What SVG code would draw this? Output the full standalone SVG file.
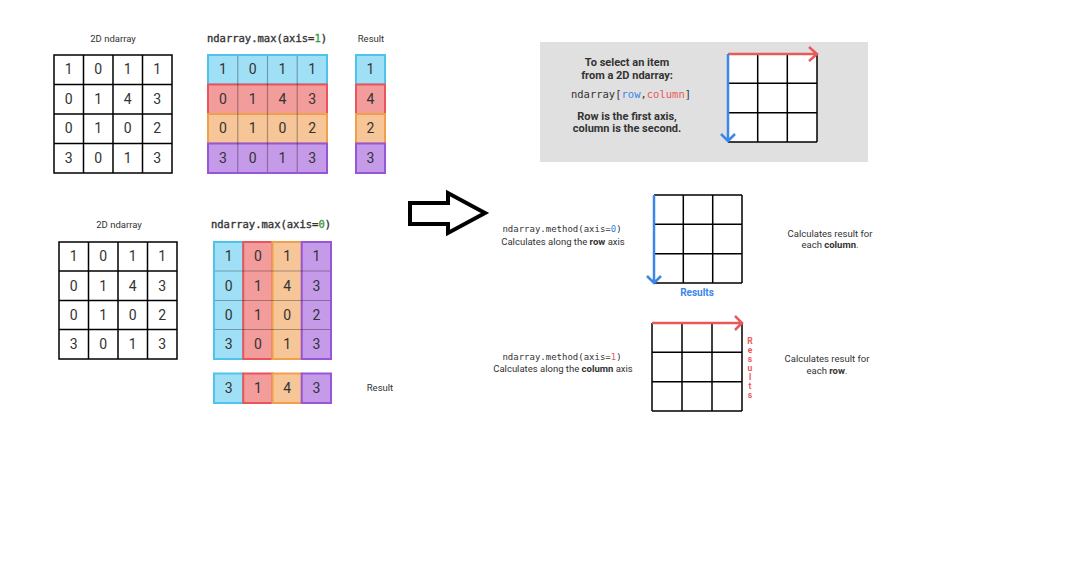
<svg xmlns="http://www.w3.org/2000/svg" width="1076" height="563" viewBox="0 0 1076 563">
<style>
.lbl{font-family:Roboto,"Liberation Sans",sans-serif;font-size:9.5px;fill:#333;text-anchor:middle}
.num{font-family:Roboto,"Liberation Sans",sans-serif;font-size:14px;fill:#333;text-anchor:middle}
.code{font-family:"DejaVu Sans Mono","Liberation Mono",monospace;fill:#333;text-anchor:middle}
.title{stroke:#333;stroke-width:0.35}
.bold{font-family:Roboto,"Liberation Sans",sans-serif;font-weight:bold;font-size:10px;fill:#333;text-anchor:middle}
.big{font-size:11px}
.cell{fill:#fff;stroke:#000;stroke-width:1.5}
.div{stroke:#000;stroke-opacity:0.3;stroke-width:1.2}
.b{fill:#9fe0f6;stroke:#4fc3ea;stroke-width:2}
.r{fill:#f39c9c;stroke:#e8555a;stroke-width:2}
.o{fill:#f6c598;stroke:#f0a04b;stroke-width:2}
.p{fill:#c59ae9;stroke:#9656d6;stroke-width:2}
.grid{stroke:#000;stroke-width:1.5;fill:none}
.ra{stroke:#e85a5a;stroke-width:2.5;fill:none}
.ba{stroke:#3b86e8;stroke-width:2.5;fill:none}
</style>

<g id="top-input">
<text class="lbl" x="113" y="42">2D ndarray</text>
<rect class="cell" x="54" y="55" width="118" height="118"/>
<path class="grid" d="M83.5 55V173M113 55V173M142.5 55V173M54 84.5H172M54 114H172M54 143.5H172"/>
<g class="num">
<text x="68.75" y="74">1</text><text x="98.25" y="74">0</text><text x="127.75" y="74">1</text><text x="157.25" y="74">1</text>
<text x="68.75" y="104">0</text><text x="98.25" y="104">1</text><text x="127.75" y="104">4</text><text x="157.25" y="104">3</text>
<text x="68.75" y="133">0</text><text x="98.25" y="133">1</text><text x="127.75" y="133">0</text><text x="157.25" y="133">2</text>
<text x="68.75" y="163">3</text><text x="98.25" y="163">0</text><text x="127.75" y="163">1</text><text x="157.25" y="163">3</text>
</g>
</g>

<g id="top-colored">
<text class="code title" x="267" y="42" font-size="10.5">ndarray.max(axis=<tspan fill="#3a9a3a" stroke="#3a9a3a">1</tspan>)</text>
<rect class="b" x="208" y="55" width="119" height="29.5"/>
<rect class="r" x="208" y="84.5" width="119" height="29.5"/>
<rect class="o" x="208" y="114" width="119" height="29.5"/>
<rect class="p" x="208" y="143.5" width="119" height="29.5"/>
<path class="div" d="M237.75 56V172M267.5 56V172M297.25 56V172"/>
<g class="num">
<text x="222.9" y="74">1</text><text x="252.6" y="74">0</text><text x="282.4" y="74">1</text><text x="312.1" y="74">1</text>
<text x="222.9" y="104">0</text><text x="252.6" y="104">1</text><text x="282.4" y="104">4</text><text x="312.1" y="104">3</text>
<text x="222.9" y="133">0</text><text x="252.6" y="133">1</text><text x="282.4" y="133">0</text><text x="312.1" y="133">2</text>
<text x="222.9" y="163">3</text><text x="252.6" y="163">0</text><text x="282.4" y="163">1</text><text x="312.1" y="163">3</text>
</g>
</g>

<g id="top-result">
<text class="lbl" x="371" y="42">Result</text>
<rect class="b" x="356" y="55" width="29" height="29.5"/>
<rect class="r" x="356" y="84.5" width="29" height="29.5"/>
<rect class="o" x="356" y="114" width="29" height="29.5"/>
<rect class="p" x="356" y="143.5" width="29" height="29.5"/>
<g class="num">
<text x="370.5" y="74">1</text><text x="370.5" y="104">4</text><text x="370.5" y="133">2</text><text x="370.5" y="163">3</text>
</g>
</g>

<g id="bottom-input">
<text class="lbl" x="119" y="228">2D ndarray</text>
<rect class="cell" x="59" y="242" width="118" height="117"/>
<path class="grid" d="M88.5 242V359M118 242V359M147.5 242V359M59 271H177M59 300.5H177M59 329.5H177"/>
<g class="num">
<text x="73.75" y="261">1</text><text x="103.25" y="261">0</text><text x="132.75" y="261">1</text><text x="162.25" y="261">1</text>
<text x="73.75" y="291">0</text><text x="103.25" y="291">1</text><text x="132.75" y="291">4</text><text x="162.25" y="291">3</text>
<text x="73.75" y="320">0</text><text x="103.25" y="320">1</text><text x="132.75" y="320">0</text><text x="162.25" y="320">2</text>
<text x="73.75" y="349">3</text><text x="103.25" y="349">0</text><text x="132.75" y="349">1</text><text x="162.25" y="349">3</text>
</g>
</g>

<g id="bottom-colored">
<text class="code title" x="271" y="228" font-size="10.5">ndarray.max(axis=<tspan fill="#3a9a3a" stroke="#3a9a3a">0</tspan>)</text>
<rect class="b" x="214" y="242" width="29.25" height="117"/>
<rect class="r" x="243.25" y="242" width="29.25" height="117"/>
<rect class="o" x="272.5" y="242" width="29.25" height="117"/>
<rect class="p" x="301.75" y="242" width="29.25" height="117"/>
<path class="div" d="M215 271H330M215 300.5H330M215 329.5H330"/>
<g class="num">
<text x="228.6" y="261">1</text><text x="257.9" y="261">0</text><text x="287.1" y="261">1</text><text x="316.4" y="261">1</text>
<text x="228.6" y="291">0</text><text x="257.9" y="291">1</text><text x="287.1" y="291">4</text><text x="316.4" y="291">3</text>
<text x="228.6" y="320">0</text><text x="257.9" y="320">1</text><text x="287.1" y="320">0</text><text x="316.4" y="320">2</text>
<text x="228.6" y="349">3</text><text x="257.9" y="349">0</text><text x="287.1" y="349">1</text><text x="316.4" y="349">3</text>
</g>
</g>

<g id="bottom-result">
<rect class="b" x="214" y="373.5" width="29.25" height="29.5"/>
<rect class="r" x="243.25" y="373.5" width="29.25" height="29.5"/>
<rect class="o" x="272.5" y="373.5" width="29.25" height="29.5"/>
<rect class="p" x="301.75" y="373.5" width="29.25" height="29.5"/>
<g class="num">
<text x="228.6" y="393">3</text><text x="257.9" y="393">1</text><text x="287.1" y="393">4</text><text x="316.4" y="393">3</text>
</g>
<text class="lbl" x="380" y="391">Result</text>
</g>

<g id="connectors">
<path d="M410 203H448V193L485 213L448 233V224H410Z" fill="#fff" stroke="#000" stroke-width="4" stroke-linejoin="miter"/>
</g>

<g id="info-box">
<rect x="540" y="42" width="328" height="120" fill="#e0e0e0"/>
<text class="bold big" x="627" y="66">To select an item</text>
<text class="bold big" x="627" y="79">from a 2D ndarray:</text>
<text class="code" x="631" y="98" font-size="10.5">ndarray[<tspan fill="#3b86e8">row</tspan>,<tspan fill="#e85a5a">column</tspan>]</text>
<text class="bold big" x="627" y="120">Row is the first axis,</text>
<text class="bold big" x="627" y="132">column is the second.</text>
<rect x="728" y="54" width="89" height="88" fill="#fff"/>
<path class="grid" d="M757.7 54V142M787.3 54V142M817 54V142M728 83.3H817M728 112.7H817M728 142H817"/>
<path class="ra" d="M728 54H817M809 47L817 54L809 61"/>
<path class="ba" d="M728 54V141M721 134L728 141L735 134"/>
</g>

<g id="axis0">
<text class="code" x="562" y="232" font-size="9">ndarray.method(axis=<tspan fill="#3b86e8">0</tspan>)</text>
<text class="lbl" x="563" y="245" font-size="9">Calculates along the <tspan font-weight="bold">row</tspan> axis</text>
<rect x="654" y="195" width="88" height="88" fill="#fff"/>
<path class="grid" d="M683.3 195V283M712.7 195V283M742 195V283M654 195H742M654 224.3H742M654 253.7H742M654 283H742"/>
<path class="ba" d="M654 195V283M647 276L654 283L661 276"/>
<text class="bold" x="697" y="296" font-size="9" style="fill:#3b86e8">Results</text>
<text class="lbl" x="830" y="237" font-size="9">Calculates result for</text>
<text class="lbl" x="830" y="248" font-size="9">each <tspan font-weight="bold">column</tspan>.</text>
</g>

<g id="axis1">
<text class="code" x="562" y="360" font-size="9">ndarray.method(axis=<tspan fill="#e85a5a">1</tspan>)</text>
<text class="lbl" x="563" y="372" font-size="9">Calculates along the <tspan font-weight="bold">column</tspan> axis</text>
<rect x="652" y="323" width="90" height="88" fill="#fff"/>
<path class="grid" d="M652 323V411M682 323V411M712 323V411M742 323V411M652 352.3H742M652 381.7H742M652 411H742"/>
<path class="ra" d="M652 323H742M735 316L742 323L735 330"/>
<g class="bold" style="fill:#e85a5a;font-size:8.5px">
<text x="750" y="344">R</text><text x="750" y="353">e</text><text x="750" y="362">s</text><text x="750" y="371">u</text><text x="750" y="380">l</text><text x="750" y="389">t</text><text x="750" y="398">s</text>
</g>
<text class="lbl" x="827" y="362" font-size="9">Calculates result for</text>
<text class="lbl" x="827" y="374" font-size="9">each <tspan font-weight="bold">row</tspan>.</text>
</g>
</svg>
